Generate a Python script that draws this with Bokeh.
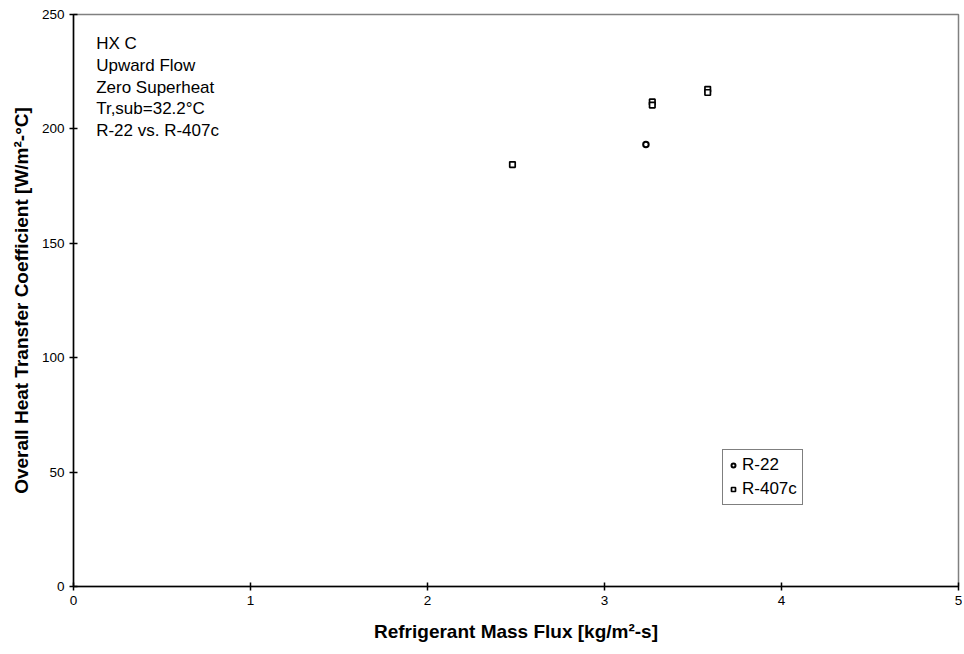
from bokeh.plotting import figure
from bokeh.models import FixedTicker, Range1d, Label, Legend, LegendItem
from bokeh.embed import file_html
from bokeh.resources import INLINE

# Data
r22_flux = [3.234]
r22_u = [193.2]
r407c_flux = [2.480, 3.270, 3.270, 3.583, 3.583]
r407c_u = [184.4, 211.8, 210.4, 217.3, 215.9]

x_ticks = [0, 1, 2, 3, 4, 5]
y_ticks = [0, 50, 100, 150, 200, 250]

notes = ["HX C", "Upward Flow", "Zero Superheat", "Tr,sub=32.2°C", "R-22 vs. R-407c"]

FONT = "Liberation Sans"

p = figure(width=962, height=650, output_backend="svg", toolbar_location=None,
           x_range=Range1d(0, 5), y_range=Range1d(0, 250),
           min_border_left=73, min_border_right=4, min_border_top=14, min_border_bottom=64)

p.xgrid.visible = False
p.ygrid.visible = False
p.outline_line_color = "#808080"
p.outline_line_width = 1.5
p.background_fill_color = "white"
p.border_fill_color = "white"

for ax in (p.xaxis[0], p.yaxis[0]):
    ax.axis_line_color = "black"
    ax.axis_line_width = 1.5
    ax.major_tick_line_color = "black"
    ax.major_tick_line_width = 1.5
    ax.major_tick_in = 4
    ax.major_tick_out = 4
    ax.minor_tick_line_color = None
    ax.major_label_text_font = FONT
    ax.major_label_text_font_size = "13.5px"
    ax.major_label_text_color = "black"
    ax.axis_label_text_font = FONT
    ax.axis_label_text_font_size = "19px"
    ax.axis_label_text_font_style = "bold"
    ax.axis_label_text_color = "black"

p.xaxis.ticker = FixedTicker(ticks=x_ticks)
p.yaxis.ticker = FixedTicker(ticks=y_ticks)
p.xaxis.axis_label = "Refrigerant Mass Flux [kg/m²-s]"
p.yaxis.axis_label = "Overall Heat Transfer Coefficient [W/m²-°C]"
p.xaxis.axis_label_standoff = 13
p.yaxis.axis_label_standoff = 7
p.xaxis.major_label_standoff = 5
p.yaxis.major_label_standoff = 5

r1 = p.scatter(r22_flux, r22_u, marker="circle", size=5.5, line_color="black",
               line_width=2, fill_color="white")
r2 = p.scatter(r407c_flux, r407c_u, marker="square", size=5.5, line_color="black",
               line_width=1.7, fill_color="white")

legend = Legend(items=[LegendItem(label="R-22", renderers=[r1]),
                       LegendItem(label="R-407c", renderers=[r2])],
                location=(649, 81))
legend.label_text_font = FONT
legend.label_text_font_size = "17px"
legend.label_text_color = "black"
legend.border_line_color = "black"
legend.border_line_width = 1.2
legend.glyph_width = 10
legend.glyph_height = 20
legend.label_standoff = 4
legend.padding = 5
legend.spacing = 4
legend.margin = 0
legend.label_height = 20
p.add_layout(legend)

# annotation block, positioned in data coordinates
note_x = 0.128
note_top = 237.2
note_step = 9.5
for i, t in enumerate(notes):
    p.add_layout(Label(x=note_x, y=note_top - i * note_step, text=t,
                       text_font=FONT, text_font_size="17px", text_color="black",
                       text_baseline="middle", text_align="left"))

open("out.html", "w").write(file_html(p, INLINE))
